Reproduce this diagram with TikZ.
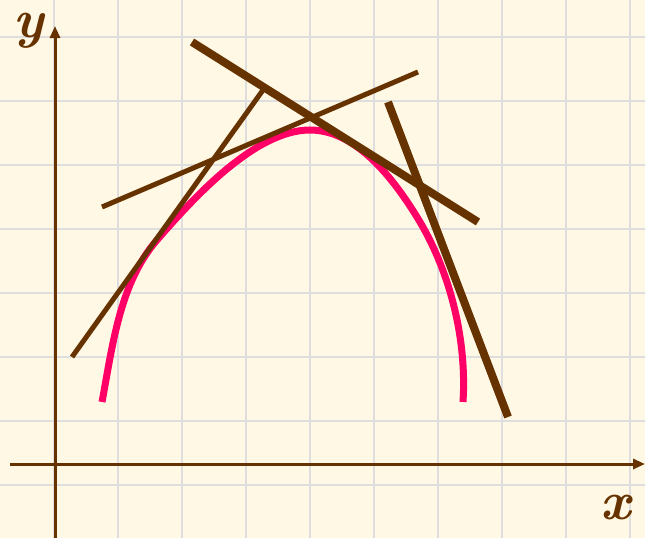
\documentclass[tikz,border=0pt]{standalone}
\usetikzlibrary{arrows.meta}
\definecolor{bg}{RGB}{255,248,228}
\definecolor{gridc}{RGB}{222,222,222}
\definecolor{brown}{RGB}{102,51,0}
\definecolor{pinkc}{RGB}{255,0,102}
\tikzset{
  axis/.style={draw=brown, line width=3pt, -{Triangle[length=12pt,width=10pt]}},
  thintan/.style={draw=brown, line width=5pt},
  thicktan/.style={draw=brown, line width=8pt},
  curve/.style={draw=pinkc, line width=7pt},
  lbl/.style={text=brown, font=\fontsize{54}{54}\selectfont\bfseries\itshape, inner sep=0pt}
}
\begin{document}
\begin{tikzpicture}[x=1pt,y=-1pt]
\fill[bg] (0,0) rectangle (645,538);
\useasboundingbox (0,0) rectangle (645,538);
% grid
\foreach \gx in {54,118,182,246,310,374,438,502,566,630}
  \draw[gridc, line width=2.8pt] (\gx,0) -- (\gx,538);
\foreach \gy in {37,101,165,229,293,357,421,485}
  \draw[gridc, line width=2.8pt] (0,\gy) -- (645,\gy);
% axes
\coordinate (xs) at (10,464);
\coordinate (xe) at (645,464);
\coordinate (ys) at (55,538);
\coordinate (ye) at (55,26);
\draw[axis] (xs) -- (xe);
\draw[axis] (ys) -- (ye);
\node[lbl] (ylab) at (29,31) {y};
\node[lbl] (xlab) at (616,508) {x};
% curve
\coordinate (p0) at (102,402);
\coordinate (p1) at (157,240);
\coordinate (p2) at (310,130);
\coordinate (p3) at (417,217);
\coordinate (p4) at (463,402);
\draw[curve] (p0) .. controls (112.5,346) and (119.6,283) .. (p1)
  .. controls (193,198.5) and (255,130) .. (p2)
  .. controls (356,130) and (392.8,177.9) .. (p3)
  .. controls (450,270.6) and (467,339) .. (p4);
% tangent lines
\coordinate (a1) at (72,357); \coordinate (a2) at (263,90);
\coordinate (b1) at (102,207); \coordinate (b2) at (418,72);
\coordinate (c1) at (192,42); \coordinate (c2) at (478,222);
\coordinate (d1) at (388,102); \coordinate (d2) at (508,417);
\draw[thintan] (a1) -- (a2);
\draw[thintan] (b1) -- (b2);
\draw[thicktan] (c1) -- (c2);
\draw[thicktan] (d1) -- (d2);
\end{tikzpicture}
\end{document}
